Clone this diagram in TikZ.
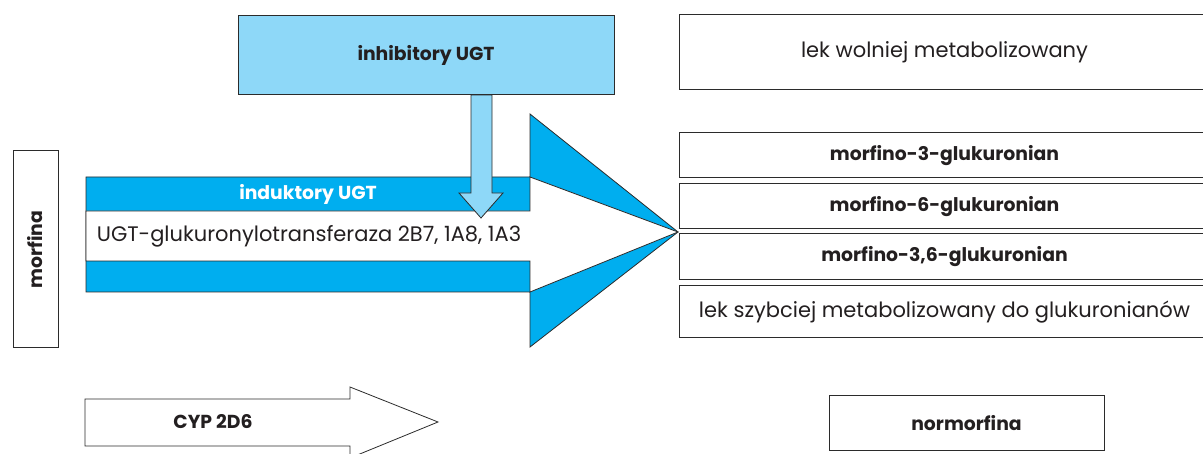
\documentclass[tikz,border=0pt]{standalone}
\usepackage{fontspec}
\setmainfont{Poppins}
\definecolor{ugtblue}{HTML}{00AEEF}
\definecolor{inhblue}{HTML}{8ED8F8}
\definecolor{edge}{HTML}{2B2B2B}
\definecolor{ink}{HTML}{231F20}

\begin{document}
\begin{tikzpicture}[x = 1pt, y = -1pt,
	txt/.style = {text = ink, inner sep = 0pt, font = \fontsize{21}{25}\selectfont},
	boldtxt/.style = {txt, font = \fontsize{18.8}{22}\selectfont\bfseries},
	box/.style = {draw = edge, line width = 1pt, fill = white},
	outline/.style = {draw = edge, line width = 0.8pt, line join = miter}]
	\useasboundingbox (0, 0) rectangle (1203, 454);
	\clip (0, 0) rectangle (1203, 454);

	\draw[outline, fill = ugtblue] (86, 177) -- (530, 177) -- (530, 114) -- (678, 232) -- (530, 347) -- (530, 292) -- (86, 292) -- cycle;
	\draw[outline, fill = white] (86, 211) -- (530, 211) -- (530, 177) -- (678, 232) -- (530, 292) -- (530, 261) -- (86, 261) -- cycle;
	\node[boldtxt, text = white] (induktory) at (308, 194) {induktory UGT};
	\node[txt] (ugt) at (309, 236) {UGT-glukuronylotransferaza 2B7, 1A8, 1A3};

	\draw[outline, fill = inhblue] (471, 95) -- (492, 95) -- (492, 193) -- (503, 193) -- (481, 218) -- (459, 193) -- (471, 193) -- cycle;
	\node[box, boldtxt, fill = inhblue, minimum width = 376pt, minimum height = 79pt] (inhibitory) at (426, 55.5) {inhibitory UGT};

	\node[box, boldtxt, rotate = 90, minimum width = 197pt, minimum height = 45pt] (morfina) at (35.5, 249.5) {morfina};

	\node[box, txt, minimum width = 531pt, minimum height = 75pt] (wolniej) at (944.5, 52.5) {lek wolniej metabolizowany};
	\node[box, boldtxt, minimum width = 531pt, minimum height = 45pt] (m3) at (944.5, 155.5) {morfino-3-glukuronian};
	\node[box, boldtxt, minimum width = 531pt, minimum height = 45pt] (m6) at (944.5, 206.5) {morfino-6-glukuronian};
	\node[box, boldtxt, minimum width = 531pt, minimum height = 46pt] (m36) at (944.5, 257) {morfino-3,6-glukuronian};
	\node[box, txt, minimum width = 531pt, minimum height = 52pt] (szybciej) at (944.5, 312) {lek szybciej metabolizowany do glukuronianów};

	\draw[outline, fill = white] (85, 399) -- (350, 399) -- (350, 387) -- (438, 422) -- (350, 458) -- (350, 446) -- (85, 446) -- cycle;
	\node[boldtxt] (cyp) at (213, 422) {CYP 2D6};

	\node[box, boldtxt, minimum width = 275pt, minimum height = 54pt] (normorfina) at (966.5, 423) {normorfina};
\end{tikzpicture}
\end{document}
